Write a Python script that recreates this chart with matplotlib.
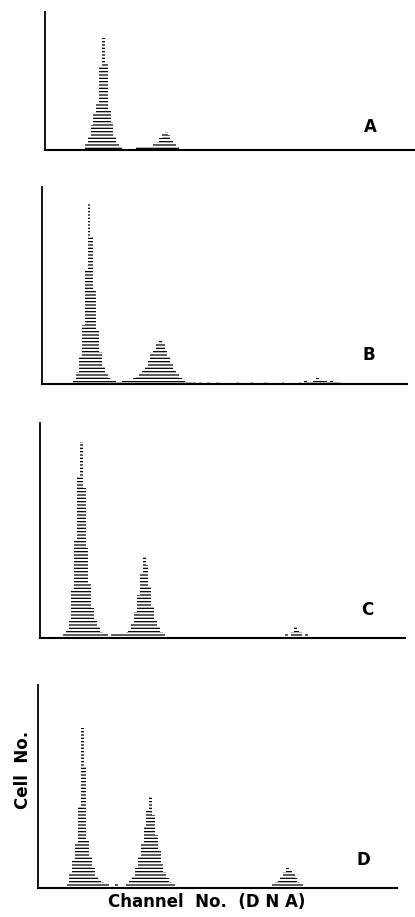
import numpy as np
import matplotlib
matplotlib.use('Agg')
import matplotlib.pyplot as plt

# channel number (DNA content), 128 bins
channels = np.arange(128)

# cell counts per channel, in % of each panel's full scale
counts_a = [0, 0, 0, 0, 0, 0, 0, 0, 0, 0, 0, 0, 0, 1, 4, 10,
            18, 26, 34, 60, 81, 62, 30, 20, 10, 4, 2, 1, 1, 1, 0, 1,
            2, 2, 2, 3, 3, 3, 4, 6, 9, 12, 13, 11, 8, 5, 3, 1,
            1, 1, 0, 1, 1, 0, 1, 1, 0, 0, 1, 0, 1, 1, 0, 0,
            1, 0, 1, 1, 0, 0, 0, 1, 1, 1, 0, 0, 0, 1, 1, 0,
            0, 0, 0, 0, 0, 1, 0, 0, 0, 0, 0, 0, 0, 0, 1, 1,
            0, 0, 0, 0, 0, 0, 0, 0, 0, 0, 0, 0, 0, 0, 0, 0,
            0, 0, 0, 0, 0, 0, 0, 0, 0, 0, 0, 0, 0, 0, 0, 0]

counts_b = [0, 0, 0, 0, 0, 0, 0, 0, 0, 0, 0, 2, 6, 14, 30, 58,
            92, 75, 48, 28, 16, 9, 5, 3, 2, 2, 1, 1, 2, 2, 2, 2,
            3, 4, 5, 7, 9, 12, 15, 18, 21, 22, 21, 18, 14, 10, 7, 5,
            3, 2, 1, 1, 1, 1, 0, 1, 0, 0, 1, 0, 0, 1, 0, 0,
            0, 0, 0, 0, 1, 0, 0, 0, 0, 1, 0, 0, 0, 0, 1, 0,
            0, 0, 0, 0, 1, 0, 0, 0, 0, 0, 1, 0, 2, 1, 1, 2,
            3, 2, 2, 2, 1, 2, 1, 1, 1, 0, 0, 0, 0, 0, 0, 0,
            0, 0, 0, 0, 0, 0, 0, 0, 0, 0, 0, 0, 0, 0, 0, 0]

counts_c = [0, 0, 0, 0, 0, 0, 0, 0, 2, 4, 8, 22, 45, 75, 91, 70,
            42, 25, 14, 8, 5, 3, 2, 2, 1, 2, 2, 2, 2, 2, 3, 4,
            7, 12, 20, 30, 38, 34, 24, 15, 9, 5, 3, 2, 1, 1, 1, 0,
            1, 0, 0, 1, 0, 0, 0, 0, 1, 0, 0, 0, 0, 0, 1, 0,
            0, 0, 0, 0, 0, 1, 0, 0, 0, 0, 0, 0, 1, 0, 0, 0,
            0, 0, 1, 0, 1, 0, 2, 0, 3, 5, 4, 3, 1, 2, 0, 1,
            0, 0, 1, 0, 0, 0, 0, 0, 0, 0, 0, 0, 0, 0, 0, 0,
            0, 0, 0, 0, 0, 0, 0, 0, 0, 0, 0, 0, 0, 0, 0, 0]

counts_d = [0, 0, 0, 0, 0, 0, 0, 0, 0, 0, 2, 7, 14, 22, 40, 79,
            60, 24, 16, 10, 6, 4, 3, 2, 2, 1, 1, 2, 1, 1, 1, 2,
            4, 6, 10, 16, 22, 30, 38, 45, 36, 26, 18, 12, 8, 5, 3, 2,
            1, 1, 0, 1, 0, 0, 1, 0, 0, 0, 0, 1, 0, 0, 0, 0,
            0, 1, 0, 0, 0, 0, 0, 0, 0, 1, 0, 0, 0, 0, 0, 1,
            1, 0, 2, 3, 4, 6, 8, 10, 9, 7, 5, 3, 2, 1, 0, 1,
            0, 0, 1, 0, 0, 0, 1, 0, 0, 0, 0, 0, 0, 0, 0, 0,
            0, 0, 0, 0, 0, 0, 0, 0, 0, 0, 0, 0, 0, 0, 0, 0]

panel_labels = ['A', 'B', 'C', 'D']
all_counts = [counts_a, counts_b, counts_c, counts_d]

W, H = 415, 917
fig = plt.figure(figsize=(W/100, H/100), dpi=100)
plt.rcParams['hatch.linewidth'] = 0.9

px_per_ch = 365/128
# left, right, top, bottom of each panel in pixels, then label position
boxes = [(45, 415, 12, 150, 370, 127),
         (42, 407, 187, 384, 369, 355),
         (40, 405, 423, 638, 367, 610),
         (38, 397, 685, 888, 363, 860)]

for lab, cnt, (l, r, t, b, lx, ly) in zip(panel_labels, all_counts, boxes):
    ax = fig.add_axes([l/W, 1-b/H, (r-l)/W, (b-t)/H])
    ax.bar(channels, cnt, width=1.0, align='edge', color='white',
           edgecolor='black', linewidth=0, hatch='-----')
    ax.set_xlim(0, (r-l)/px_per_ch)
    ax.set_ylim(0, 100)
    ax.spines['right'].set_color('none')
    ax.spines['top'].set_color('none')
    ax.spines['left'].set_linewidth(1.3)
    ax.spines['bottom'].set_linewidth(1.5)
    ax.set_xticks([])
    ax.set_yticks([])
    fig.text(lx/W, 1-ly/H, lab, fontsize=12, fontweight='bold',
             family=['Liberation Sans Narrow', 'DejaVu Sans'],
             ha='center', va='center')

fig.text(108/W, 1-902/H, 'Channel  No.  (D N A)', fontsize=12,
         fontweight='bold', ha='left', va='center')
fig.text(23/W, 1-770/H, 'Cell  No.', fontsize=12, fontweight='bold',
         rotation=90, ha='center', va='center')

fig.savefig('out.png', dpi=100)
